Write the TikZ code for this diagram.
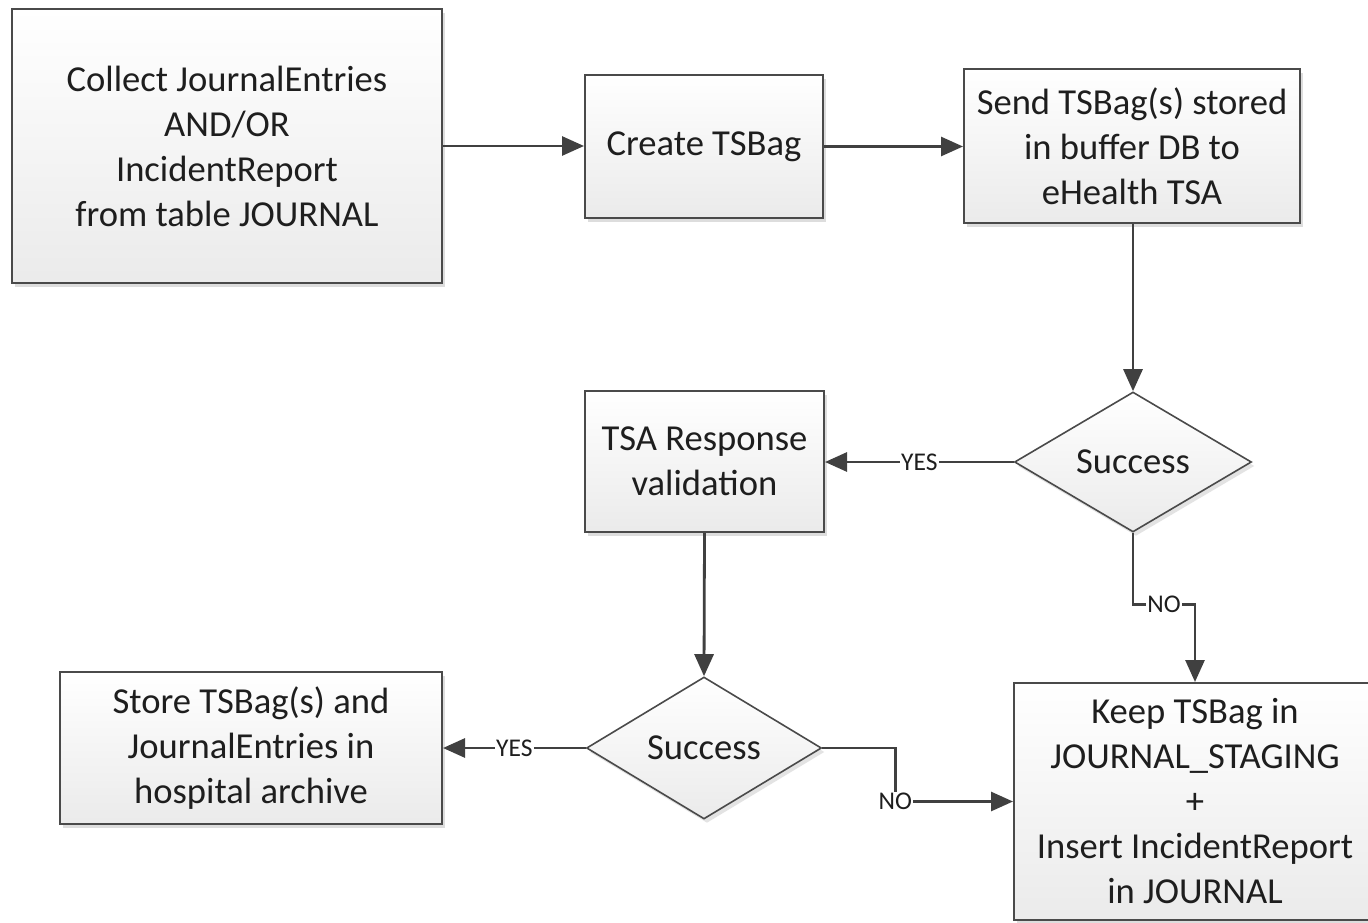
\documentclass[tikz,border=0pt]{standalone}
\usepackage{fontspec}
\setmainfont{Carlito}
\usetikzlibrary{shapes.geometric,arrows.meta,shadows,calc}
\definecolor{linec}{HTML}{404040}
\definecolor{edgec}{HTML}{4A4A4A}
\definecolor{textc}{HTML}{1E1E1E}
\tikzset{
  procbox/.style={draw=edgec, line width=2pt, top color=white, bottom color=black!8,
    align=center, inner sep=0pt, text=textc,
    font=\fontsize{36.6}{45}\selectfont,
    drop shadow={shadow xshift=3pt, shadow yshift=-4pt, opacity=0.22, fill=black!60}},
  decide/.style={diamond, draw=edgec, line width=1.6pt, top color=white, bottom color=black!8,
    inner sep=0pt, text=textc, font=\fontsize{36.6}{45}\selectfont,
    drop shadow={shadow xshift=3pt, shadow yshift=-4pt, opacity=0.18, fill=black!60}},
  conn/.style={draw=linec, line width=2.8pt, -{Triangle[length=22pt,width=19pt]}},
  lbl/.style={fill=white, inner sep=1pt, text=textc, font=\fontsize{25.5}{27}\selectfont}
}
\begin{document}
\begin{tikzpicture}[x=1pt,y=-1pt]
\useasboundingbox (0,0) rectangle (1368,923);
\fill[white] (0,0) rectangle (1368,923);

\node[procbox, minimum width=430pt, minimum height=274pt] (b1) at (227,146)
  {Collect JournalEntries\\AND/OR\\IncidentReport\\from table JOURNAL};
\node[procbox, minimum width=238pt, minimum height=143pt] (b2) at (704,146.5) {Create TSBag};
\node[procbox, minimum width=336pt, minimum height=154pt] (b3) at (1132,146)
  {Send TSBag(s) stored\\in buffer DB to\\eHealth TSA};
\node[decide, minimum width=237pt, minimum height=140pt] (d1) at (1133,462) {Success};
\node[procbox, minimum width=239pt, minimum height=141pt] (b5) at (704.5,461.5)
  {TSA Response\\validation};
\node[decide, minimum width=235pt, minimum height=142pt] (d2) at (704,748) {Success};
\node[procbox, minimum width=382pt, minimum height=152pt] (b7) at (251,748)
  {Store TSBag(s) and\\JournalEntries in\\hospital archive};
\node[procbox, minimum width=362pt, minimum height=237pt] (b8) at (1195,801.5)
  {Keep TSBag in\\JOURNAL\_STAGING\\+\\Insert IncidentReport\\in JOURNAL};

\draw[conn] (b1.east) -- (b1.east -| b2.west);
\draw[conn] (b2.east) -- (b2.east -| b3.west);
\draw[conn] (d1.north |- b3.south) -- (d1.north);
\draw[conn] (d1.west) -- node[lbl]{YES} (d1.west -| b5.east);
\draw[conn] (d1.south) -- ++(0,72) coordinate (c1) -- node[lbl]{NO} (c1 -| b8.north) -- (b8.north);
\draw[conn] (b5.south) -- (d2.north);
\draw[conn] (d2.west) -- node[lbl]{YES} (d2.west -| b7.east);
\draw[conn] (d2.east) -- ++(73,0) coordinate (c2) -- (c2 |- b8.west) node[lbl]{NO} -- (b8.west);
\end{tikzpicture}
\end{document}
